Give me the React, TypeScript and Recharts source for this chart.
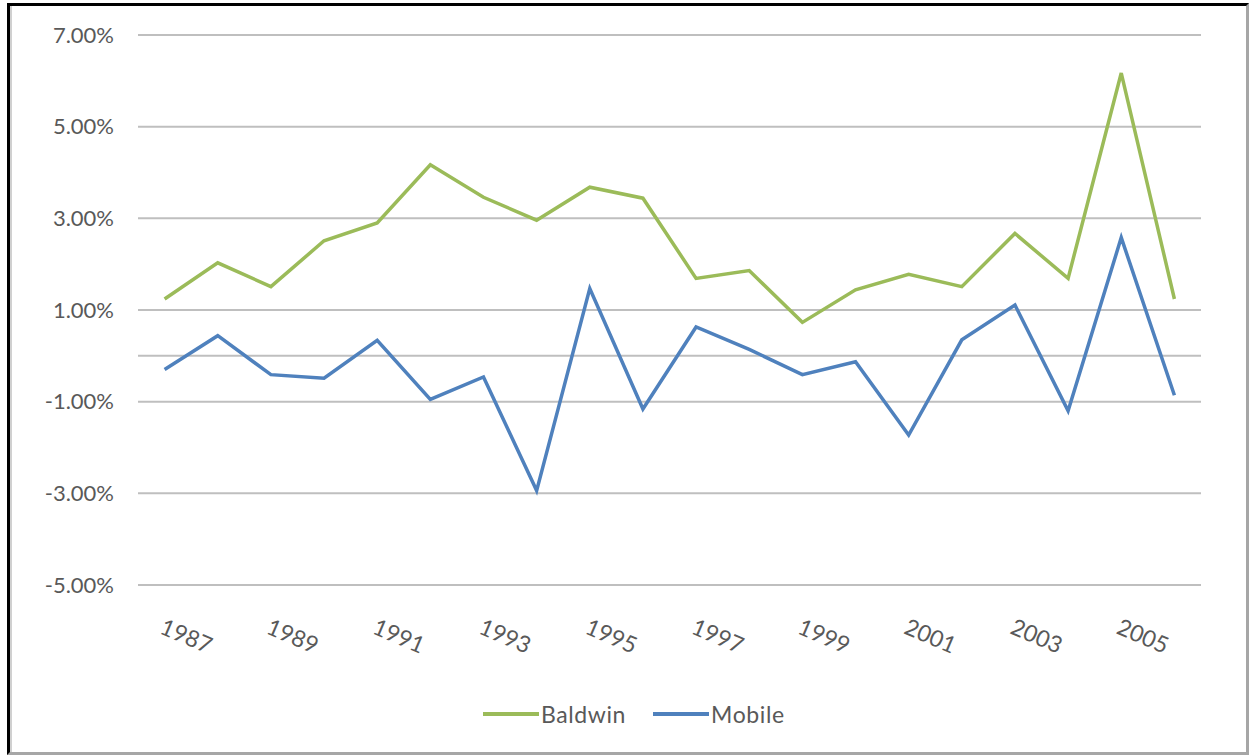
import React from "react";
import {
  LineChart,
  Line,
  XAxis,
  YAxis,
  CartesianGrid,
  Legend,
  ReferenceLine
} from "recharts";

const years = [
  "1987", "1988", "1989", "1990", "1991", "1992", "1993", "1994", "1995", "1996",
  "1997", "1998", "1999", "2000", "2001", "2002", "2003", "2004", "2005", "2006"
];

const baldwin = [
  1.24, 2.03, 1.51, 2.51, 2.9, 4.17, 3.46, 2.96, 3.68, 3.44,
  1.69, 1.86, 0.73, 1.44, 1.78, 1.51, 2.67, 1.69, 6.17, 1.24
];

const mobile = [
  -0.3, 0.44, -0.41, -0.49, 0.34, -0.95, -0.46, -2.94, 1.47, -1.16,
  0.63, 0.14, -0.41, -0.13, -1.73, 0.35, 1.11, -1.2, 2.58, -0.86
];

const yTicks = [-5, -3, -1, 1, 3, 5, 7];

const GREEN = "#9BBB59";
const BLUE = "#4F81BD";
const GRID = "#BFBFBF";
const TEXT = "#595959";
const FONT = "Lato, 'Open Sans', sans-serif";

const data = years.map((year, i) => ({
  year,
  Baldwin: baldwin[i],
  Mobile: mobile[i]
}));

function YearTick(props: any) {
  const { x, y, payload } = props;
  return (
    <g transform={`translate(${x - 6},${y + 46}) rotate(23)`}>
      <text
        x={0}
        y={0}
        textAnchor="start"
        fill={TEXT}
        fontSize={23}
        fontFamily={FONT}
      >
        {payload.value}
      </text>
    </g>
  );
}

function LegendContent(props: any) {
  const items = props.payload || [];
  return (
    <div style={{ display: "flex", alignItems: "center", height: 24 }}>
      {items.map((it: any) => (
        <div
          key={it.value}
          style={{ display: "flex", alignItems: "center", marginRight: 27 }}
        >
          <svg width={56} height={8} style={{ marginRight: 2 }}>
            <line x1={0} y1={4} x2={56} y2={4} stroke={it.color} strokeWidth={4} />
          </svg>
          <span
            style={{
              fontFamily: FONT,
              fontSize: 23,
              letterSpacing: 0.6,
              color: TEXT
            }}
          >
            {it.value}
          </span>
        </div>
      ))}
    </div>
  );
}

export default function App() {
  return (
    <div style={{ position: "absolute", left: 0, top: 0, width: 1249, height: 755 }}>
      <div
        style={{
          position: "absolute",
          left: 7,
          top: 3,
          width: 1242,
          height: 752,
          boxSizing: "border-box",
          borderTop: "3px solid #000",
          borderLeft: "3px solid #000",
          borderRight: "3px solid #a6a6a6",
          borderBottom: "3px solid #a6a6a6",
          background: "#fff"
        }}
      >
        <div
          style={{
            position: "absolute",
            left: 0,
            top: 0,
            bottom: 0,
            width: 2,
            background: "#d0d0d0"
          }}
        />
      </div>
      <div style={{ position: "absolute", left: 0, top: 0 }}>
        <LineChart
          width={1249}
          height={755}
          data={data}
          margin={{ top: 35, right: 48, bottom: 29, left: 58 }}
        >
          <CartesianGrid vertical={false} stroke={GRID} strokeWidth={2} />
          <XAxis
            dataKey="year"
            interval={1}
            axisLine={false}
            tickLine={false}
            tickSize={0}
            height={117}
            padding={{ left: 26.6, right: 26.6 }}
            tick={<YearTick />}
          />
          <YAxis
            domain={[-5, 7]}
            ticks={yTicks}
            width={80}
            axisLine={false}
            tickLine={false}
            tickSize={0}
            tickMargin={24}
            tickFormatter={(v: number) => `${v.toFixed(2)}%`}
            tick={{ fill: TEXT, fontSize: 22, fontFamily: FONT }}
          />
          <ReferenceLine y={0} stroke={GRID} strokeWidth={2} />
          <Legend
            verticalAlign="bottom"
            content={<LegendContent />}
            wrapperStyle={{ left: 483, width: 360 }}
          />
          <Line
            type="linear"
            dataKey="Baldwin"
            stroke={GREEN}
            strokeWidth={3.5}
            dot={false}
            isAnimationActive={false}
          />
          <Line
            type="linear"
            dataKey="Mobile"
            stroke={BLUE}
            strokeWidth={3.5}
            dot={false}
            isAnimationActive={false}
          />
        </LineChart>
      </div>
    </div>
  );
}
